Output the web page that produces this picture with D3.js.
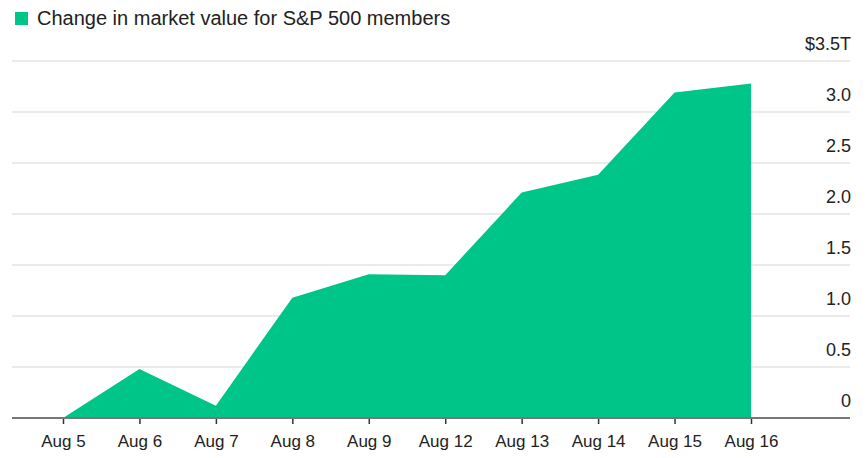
<!DOCTYPE html>
<html lang="en">
    <head>
        <meta charset="utf-8">
        <title>S&amp;P 500 market value change</title>
        <script type="text/javascript" src="https://cdn.jsdelivr.net/npm/d3@7"></script>
        <style>
            body { margin: 0; background: #fff; }
            text { font-family: "Liberation Sans", Arial, sans-serif; fill: #222; }
        </style>
    </head>
    <body>
        <script type="text/javascript">

            //Width and height
            var w = 868;
            var h = 458;

            var dates = ["Aug 5", "Aug 6", "Aug 7", "Aug 8", "Aug 9", "Aug 12", "Aug 13", "Aug 14", "Aug 15", "Aug 16"];
            var values = [0, 0.48, 0.12, 1.18, 1.41, 1.40, 2.21, 2.385, 3.19, 3.28];
            var yTicks = [0, 0.5, 1.0, 1.5, 2.0, 2.5, 3.0, 3.5];
            var yTickLabels = ["0", "0.5", "1.0", "1.5", "2.0", "2.5", "3.0", "$3.5T"];
            var seriesName = "Change in market value for S&P 500 members";

            var green = "#00c589";

            //Create scale functions
            var xScale = d3.scalePoint()
                    .domain(dates)
                    .range([63, 751]);

            var yScale = d3.scaleLinear()
                    .domain([0, 3.5])
                    .range([418, 61]);

            //Create SVG element
            var svg = d3.select("body")
                    .append("svg")
                    .attr("width", w)
                    .attr("height", h);

            //Legend
            svg.append("rect")
                    .attr("x", 15)
                    .attr("y", 12)
                    .attr("width", 13)
                    .attr("height", 13)
                    .attr("fill", green);

            svg.append("text")
                    .attr("x", 37)
                    .attr("y", 25)
                    .attr("font-size", "20px")
                    .text(seriesName);

            //Gridlines
            svg.append("g")
                    .selectAll("line")
                    .data(yTicks.filter(function (d) { return d > 0; }))
                    .enter()
                    .append("line")
                    .attr("x1", 12)
                    .attr("x2", 850)
                    .attr("y1", function (d) { return yScale(d); })
                    .attr("y2", function (d) { return yScale(d); })
                    .attr("stroke", "#e5e5e5")
                    .attr("stroke-width", 1.5);

            //Area
            var data = dates.map(function (d, i) { return {date: d, value: values[i]}; });

            var area = d3.area()
                    .x(function (d) { return xScale(d.date); })
                    .y0(yScale(0))
                    .y1(function (d) { return yScale(d.value); });

            svg.append("path")
                    .datum(data)
                    .attr("d", area)
                    .attr("fill", green);

            //Y axis labels (right side, above each gridline)
            svg.append("g")
                    .selectAll("text")
                    .data(yTicks)
                    .enter()
                    .append("text")
                    .attr("x", 851)
                    .attr("y", function (d) { return yScale(d) - 11; })
                    .attr("text-anchor", "end")
                    .attr("font-size", "18px")
                    .text(function (d, i) { return yTickLabels[i]; });

            //X axis
            var xAxis = svg.append("g")
                    .attr("class", "axis")
                    .attr("transform", "translate(0," + yScale(0) + ")")
                    .call(d3.axisBottom(xScale).tickSize(6).tickPadding(11));

            xAxis.select(".domain").remove();
            xAxis.selectAll(".tick line").attr("stroke", "#333").attr("stroke-width", 1.5);
            xAxis.selectAll(".tick text")
                    .attr("font-size", "17px")
                    .attr("fill", "#222")
                    .style("font-family", "'Liberation Sans', Arial, sans-serif");

            //Baseline
            svg.append("line")
                    .attr("x1", 12)
                    .attr("x2", 850)
                    .attr("y1", yScale(0))
                    .attr("y2", yScale(0))
                    .attr("stroke", "#777")
                    .attr("stroke-width", 2);

        </script>
    </body>
</html>
